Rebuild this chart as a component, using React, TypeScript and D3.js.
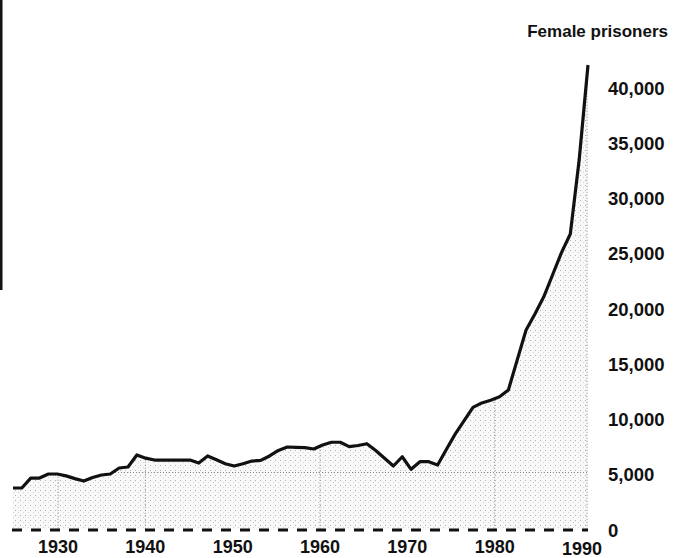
import React from "react";
import * as d3 from "d3";

// yearly count of female prisoners
const years = d3.range(1925, 1991);
const prisoners = [
  3800, 3800, 4700, 4700, 5070, 5070, 4900, 4650, 4430, 4750,
  4980, 5070, 5610, 5700, 6790, 6500, 6330, 6330, 6330, 6330,
  6330, 6060, 6700, 6350, 6000, 5790, 6000, 6240, 6300, 6700,
  7200, 7510, 7480, 7450, 7330, 7690, 7940, 7940, 7540, 7650,
  7810, 7200, 6500, 5790, 6630, 5490, 6180, 6180, 5880, 7300,
  8700, 9900, 11100, 11500, 11750, 12060, 12670, 15400, 18100, 19550,
  21100, 23100, 25100, 26790, 33480, 42080,
];
const yearTicks = [1930, 1940, 1950, 1960, 1970, 1980, 1990];
const valueTicks = [0, 5000, 10000, 15000, 20000, 25000, 30000, 35000, 40000];
const gridYears = [1930, 1940, 1960, 1980];
const title = "Female prisoners";

const W = 681;
const H = 558;

export default function App() {
  const data = years.map((y, i) => ({ year: y, value: prisoners[i] }));

  const x = d3.scaleLinear().domain([1925, 1990]).range([13, 588]);
  // the printed year labels drift a little from the plotted points
  const xLabel = d3.scaleLinear().domain([1930, 1990]).range([58, 582]);
  const y = d3.scaleLinear().domain([0, 40000]).range([530, 88]);

  const line = d3
    .line<{ year: number; value: number }>()
    .x((d) => x(d.year))
    .y((d) => y(d.value));
  const area = d3
    .area<{ year: number; value: number }>()
    .x((d) => x(d.year))
    .y0(y(0))
    .y1((d) => y(d.value));

  const fmt = d3.format(",");
  const font = "'Liberation Sans', Arial, Helvetica, sans-serif";

  return (
    <svg
      width={W}
      height={H}
      style={{ position: "absolute", left: 0, top: 0, background: "#fff" }}
    >
      <defs>
        <pattern id="stipple" width="5" height="5" patternUnits="userSpaceOnUse">
          <rect width="5" height="5" fill="#f9f9f9" />
          <rect x="0" y="0" width="1" height="1" fill="#b0b0b0" />
          <rect x="3" y="2" width="1" height="1" fill="#d2d2d2" />
        </pattern>
        <clipPath id="under">
          <path d={area(data) || ""} />
        </clipPath>
      </defs>

      {/* scan edge on the left */}
      <line x1={1} x2={1} y1={0} y2={290} stroke="#111" strokeWidth={3} />

      <path d={area(data) || ""} fill="url(#stipple)" />
      <g clipPath="url(#under)" stroke="#888" strokeWidth={1} strokeDasharray="1 2">
        {gridYears.map((g) => (
          <line key={g} x1={xLabel(g)} x2={xLabel(g)} y1={y(45000)} y2={y(0)} />
        ))}
        <line x1={x(1925)} x2={x(1990)} y1={y(5200)} y2={y(5200)} />
        <line x1={x(1990) - 1} x2={x(1990) - 1} y1={y(45000)} y2={y(0)} />
      </g>

      <line
        x1={x(1925) - 1}
        x2={x(1990)}
        y1={y(0)}
        y2={y(0)}
        stroke="#111"
        strokeWidth={3}
        strokeDasharray="10 9"
      />

      <path
        d={line(data) || ""}
        fill="none"
        stroke="#111"
        strokeWidth={3.2}
        strokeLinejoin="round"
      />

      <g fontFamily={font} fontWeight="bold" fill="#111">
        <text x={668} y={37} fontSize={17} textAnchor="end">
          {title}
        </text>
        {valueTicks.map((v) => (
          <text key={v} x={608} y={y(v)} dy="0.36em" fontSize={18.5}>
            {fmt(v)}
          </text>
        ))}
        {yearTicks.map((t) => (
          <text
            key={t}
            x={xLabel(t)}
            y={t === 1990 ? 555 : 553}
            fontSize={18}
            textAnchor="middle"
          >
            {t}
          </text>
        ))}
      </g>
    </svg>
  );
}
